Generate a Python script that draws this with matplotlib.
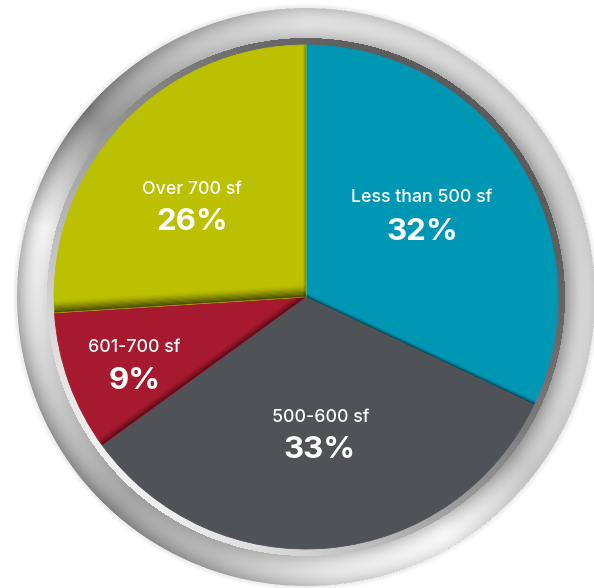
"""
Unit size mix pie chart inside a brushed metal ring.
"""

import matplotlib
matplotlib.use("Agg")
import matplotlib.pyplot as plt
import numpy as np


# ---- data -------------------------------------------------------------------
CATEGORIES = ["Less than 500 sf", "500-600 sf", "601-700 sf", "Over 700 sf"]
SHARES = [32, 33, 9, 26]
COLORS = ["#0097B5", "#4F5358", "#A6192E", "#BBC000"]

# label centres in image pixels (x, y from top), name line and percent line
NAME_POS = [(422, 197), (321, 418), (134, 347), (192, 189)]
PCT_POS = [(422, 232), (320, 450), (135, 381), (192, 222)]

W, H = 594, 588
CX, CY = 306, H - 297
R_PIE = 252
R_BAND = 259
R_OUT = 289


def ring_image():
    """RGBA image of the metal bezel around the pie."""
    xs = np.arange(W) + 0.5
    ys = np.arange(H) + 0.5
    X, Y = np.meshgrid(xs, ys)
    dx, dy = X - CX, Y - CY
    r = np.hypot(dx, dy)
    th = np.degrees(np.arctan2(dy, dx)) % 360

    # angular brightness of the bezel body
    knots = [0, 20, 45, 70, 90, 115, 140, 165, 185, 205, 228, 250, 275, 300, 322, 342, 360]
    vals = [0.82, 0.80, 0.82, 0.86, 0.88, 0.76, 0.58, 0.94, 0.87, 0.76, 0.64, 0.72, 0.90, 0.97, 0.78, 0.82, 0.82]
    base = np.interp(th, knots, vals)

    t = np.clip((r - R_BAND) / (R_OUT - R_BAND), 0, 1)
    tilt = 0.18 * np.cos(np.radians(th)) * (t - 0.5)
    body = base * (0.86 + 0.14 * np.sin(np.pi * t)) + tilt

    # inner bevel: dark at top-right, bright at bottom-left
    w = ((1 + np.cos(np.radians(th - 225))) / 2) ** 1.5
    bevel = 0.36 + 0.58 * w
    val = np.where(r < R_BAND, bevel, body)
    val = np.clip(val, 0, 1)

    alpha = np.clip(R_OUT - r + 0.5, 0, 1)
    # faint outer shadow
    halo = np.clip(1 - (r - R_OUT) / 5.0, 0, 1) * 0.18
    halo = np.where(r > R_OUT, halo, 0)
    val = np.where(r > R_OUT, 0.55, val)
    alpha = np.maximum(alpha, halo)
    alpha = np.where(r < R_PIE - 3, 0, alpha)

    img = np.zeros((H, W, 4))
    img[..., 0] = val
    img[..., 1] = val
    img[..., 2] = val
    img[..., 3] = alpha
    return img


def boundary_shadow(ax, wedge, angle_deg, side, width_px, max_alpha, steps=10):
    """Soft dark strip along one slice boundary, clipped to the wedge it falls on."""
    a = np.radians(angle_deg)
    u = np.array([np.cos(a), np.sin(a)])
    n = np.array([-np.sin(a), np.cos(a)]) * side
    lw = width_px / steps * 72 / 100 * 1.6
    for i in range(steps):
        d = (i + 0.5) * width_px / steps
        p0 = np.array([CX, CY]) + d * n
        p1 = p0 + u * (R_PIE + 20)
        alpha = max_alpha * (1 - i / steps) ** 1.5
        line, = ax.plot([p0[0], p1[0]], [p0[1], p1[1]], color="black",
                        alpha=alpha, lw=lw, solid_capstyle="butt", zorder=3)
        line.set_clip_path(wedge)


def main():
    plt.rcParams["font.family"] = ["Inter", "DejaVu Sans"]
    fig = plt.figure(figsize=(W / 100, H / 100), dpi=100)
    ax = fig.add_axes([0, 0, 1, 1])

    ax.imshow(ring_image(), extent=(0, W, 0, H), origin="lower",
              interpolation="bilinear", zorder=1)

    wedges, _ = ax.pie(SHARES, colors=COLORS, startangle=90, counterclock=False,
                       center=(CX, CY), radius=R_PIE,
                       wedgeprops=dict(linewidth=0.6, zorder=2))
    for wdg, c in zip(wedges, COLORS):
        wdg.set_edgecolor(c)
        wdg.set_zorder(2)

    # boundary angles (standard orientation) from the data
    total = float(sum(SHARES))
    cuts = [(90 - 360 * s / total) % 360 for s in np.cumsum(SHARES)]
    # cuts[0]: blue/gray, cuts[1]: gray/red, cuts[2]: red/olive, cuts[3]: olive/blue
    boundary_shadow(ax, wedges[0], cuts[0], +1, 4, 0.35)
    boundary_shadow(ax, wedges[2], cuts[1], -1, 7, 0.35)
    boundary_shadow(ax, wedges[3], cuts[2], -1, 12, 0.45)
    boundary_shadow(ax, wedges[3], cuts[3], +1, 3, 0.25)

    for name, share, (nx, ny), (px, py) in zip(CATEGORIES, SHARES, NAME_POS, PCT_POS):
        ax.text(nx, H - ny, name, color="white", fontsize=12.8, fontweight="medium",
                ha="center", va="center", zorder=5)
        ax.text(px, H - py, f"{share}%", color="white", fontsize=22.5,
                fontweight="bold", ha="center", va="center", zorder=5)

    ax.set_xlim(0, W)
    ax.set_ylim(0, H)
    ax.set_aspect("equal")
    ax.axis("off")
    fig.savefig("out.png", dpi=100, facecolor="white")
    plt.close(fig)


if __name__ == "__main__":
    main()
